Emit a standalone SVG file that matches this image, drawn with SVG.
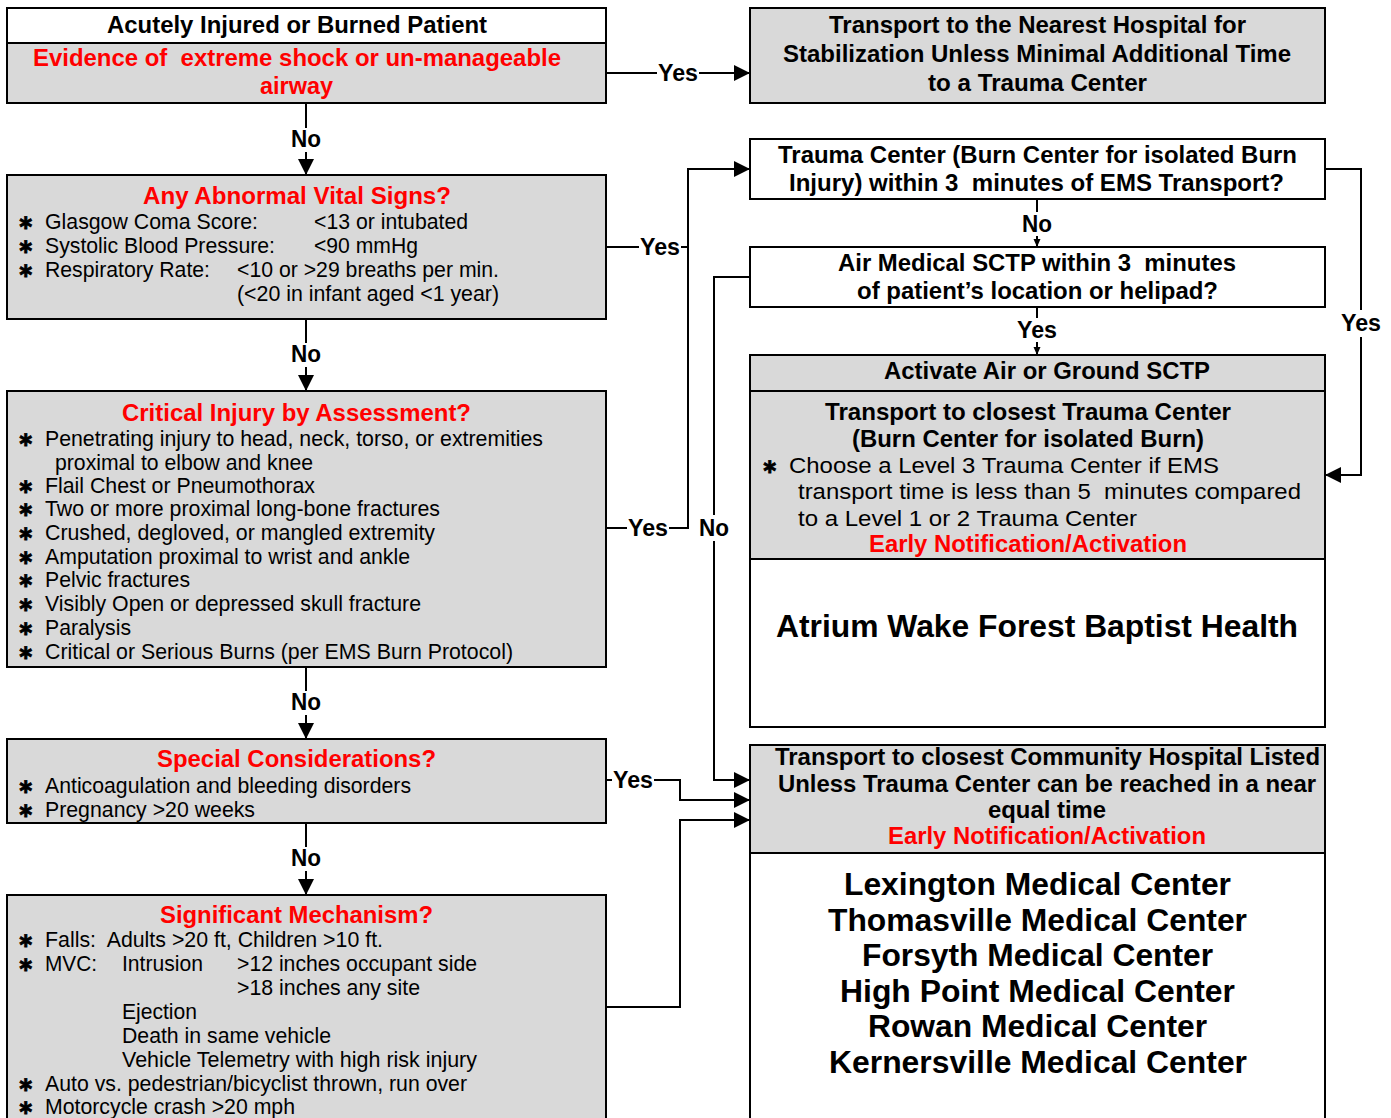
<svg xmlns="http://www.w3.org/2000/svg" width="1391" height="1118" viewBox="0 0 1391 1118">
<style>
text { font-family: "Liberation Sans Narrow", "Liberation Sans", Arial, sans-serif; }
.g { fill: #d9d9d9; stroke: #000; stroke-width: 2; }
.w { fill: #ffffff; stroke: #000; stroke-width: 2; }
.t { font-size: 24px; font-weight: bold; fill: #000; }
.r { font-size: 24px; font-weight: bold; fill: #ff0000; }
.n { font-size: 22px; fill: #000; }
.big { font-size: 32px; font-weight: bold; fill: #000; }
.ast { font-family: "DejaVu Sans", sans-serif; font-size: 20px; font-weight: bold; fill: #000; stroke: #000; stroke-width: 0.8; text-anchor: middle; }
.c { fill: none; stroke: #000; stroke-width: 2; }
.lb { font-size: 23px; font-weight: bold; fill: #000; text-anchor: middle; }
.bg { fill: #ffffff; }
</style>
<defs>
<marker id="a" markerUnits="userSpaceOnUse" markerWidth="16" markerHeight="16" refX="16" refY="8" orient="auto"><path d="M0,0 L16,8 L0,16 z" fill="#000"/></marker>
<marker id="s" markerUnits="userSpaceOnUse" markerWidth="8" markerHeight="8" refX="8" refY="4" orient="auto"><path d="M0,0.5 L8,4 L0,7.5 z" fill="#000"/></marker>
</defs>

<g id="connectors">
<path class="c" d="M606,73 H750" marker-end="url(#a)"/>
<path class="c" d="M306,103 V175" marker-end="url(#a)"/>
<path class="c" d="M606,247 H688 V169 H750" marker-end="url(#a)"/>
<path class="c" d="M606,528 H688 V247"/>
<path class="c" d="M306,319 V391" marker-end="url(#a)"/>
<path class="c" d="M1325,169 H1361 V475 H1325" marker-end="url(#a)"/>
<path class="c" d="M1037,199 V247" marker-end="url(#s)"/>
<path class="c" d="M1037,307 V355" marker-end="url(#s)"/>
<path class="c" d="M750,277 H714 V780 H750" marker-end="url(#a)"/>
<path class="c" d="M306,667 V739" marker-end="url(#a)"/>
<path class="c" d="M606,780 H680 V800 H750" marker-end="url(#a)"/>
<path class="c" d="M306,823 V895" marker-end="url(#a)"/>
<path class="c" d="M606,1007 H680 V820 H750" marker-end="url(#a)"/>

<rect class="bg" x="657" y="62" width="42" height="24"/>
<text class="lb" x="678" y="81" textLength="40" lengthAdjust="spacingAndGlyphs">Yes</text>
<rect class="bg" x="290" y="128" width="32" height="24"/>
<text class="lb" x="306" y="147" textLength="30" lengthAdjust="spacingAndGlyphs">No</text>
<rect class="bg" x="639" y="236" width="42" height="24"/>
<text class="lb" x="660" y="255" textLength="40" lengthAdjust="spacingAndGlyphs">Yes</text>
<rect class="bg" x="290" y="343" width="32" height="24"/>
<text class="lb" x="306" y="362" textLength="30" lengthAdjust="spacingAndGlyphs">No</text>
<rect class="bg" x="627" y="517" width="42" height="24"/>
<text class="lb" x="648" y="536" textLength="40" lengthAdjust="spacingAndGlyphs">Yes</text>
<rect class="bg" x="698" y="515" width="32" height="26"/>
<text class="lb" x="714" y="536" textLength="30" lengthAdjust="spacingAndGlyphs">No</text>
<rect class="bg" x="290" y="691" width="32" height="24"/>
<text class="lb" x="306" y="710" textLength="30" lengthAdjust="spacingAndGlyphs">No</text>
<rect class="bg" x="612" y="769" width="42" height="24"/>
<text class="lb" x="633" y="788" textLength="40" lengthAdjust="spacingAndGlyphs">Yes</text>
<rect class="bg" x="290" y="847" width="32" height="24"/>
<text class="lb" x="306" y="866" textLength="30" lengthAdjust="spacingAndGlyphs">No</text>
<rect class="bg" x="1021" y="212" width="32" height="24"/>
<text class="lb" x="1037" y="232" textLength="30" lengthAdjust="spacingAndGlyphs">No</text>
<rect class="bg" x="1016" y="318" width="42" height="24"/>
<text class="lb" x="1037" y="338" textLength="40" lengthAdjust="spacingAndGlyphs">Yes</text>
<rect class="bg" x="1340" y="310" width="42" height="27"/>
<text class="lb" x="1361" y="331" textLength="40" lengthAdjust="spacingAndGlyphs">Yes</text>
</g>

<g id="n-injured">
<rect class="w" x="7" y="8" width="599" height="35"/>
<rect class="g" x="7" y="43" width="599" height="60"/>
<text class="t" x="107" y="33" textLength="380" lengthAdjust="spacingAndGlyphs">Acutely Injured or Burned Patient</text>
<text class="r" x="33" y="66" textLength="528" lengthAdjust="spacingAndGlyphs" xml:space="preserve">Evidence of  extreme shock or un-manageable</text>
<text class="r" x="260" y="94" textLength="73" lengthAdjust="spacingAndGlyphs">airway</text>
</g>

<g id="n-nearest">
<rect class="g" x="750" y="8" width="575" height="95"/>
<text class="t" x="829" y="33" textLength="417" lengthAdjust="spacingAndGlyphs">Transport to the Nearest Hospital for</text>
<text class="t" x="783" y="62" textLength="508" lengthAdjust="spacingAndGlyphs">Stabilization Unless Minimal Additional Time</text>
<text class="t" x="928" y="91" textLength="219" lengthAdjust="spacingAndGlyphs">to a Trauma Center</text>
</g>

<g id="n-vitals">
<rect class="g" x="7" y="175" width="599" height="144"/>
<text class="r" x="143" y="204" textLength="308" lengthAdjust="spacingAndGlyphs">Any Abnormal Vital Signs?</text>
<text class="ast" x="26" y="229">∗</text>
<text class="n" x="45" y="229" textLength="213" lengthAdjust="spacingAndGlyphs">Glasgow Coma Score:</text>
<text class="n" x="314" y="229" textLength="154" lengthAdjust="spacingAndGlyphs">&lt;13 or intubated</text>
<text class="ast" x="26" y="253">∗</text>
<text class="n" x="45" y="253" textLength="230" lengthAdjust="spacingAndGlyphs">Systolic Blood Pressure:</text>
<text class="n" x="314" y="253" textLength="104" lengthAdjust="spacingAndGlyphs">&lt;90 mmHg</text>
<text class="ast" x="26" y="277">∗</text>
<text class="n" x="45" y="277" textLength="165" lengthAdjust="spacingAndGlyphs">Respiratory Rate:</text>
<text class="n" x="237" y="277" textLength="262" lengthAdjust="spacingAndGlyphs">&lt;10 or &gt;29 breaths per min.</text>
<text class="n" x="237" y="301" textLength="262" lengthAdjust="spacingAndGlyphs">(&lt;20 in infant aged &lt;1 year)</text>
</g>

<g id="n-critical">
<rect class="g" x="7" y="391" width="599" height="276"/>
<text class="r" x="122" y="421" textLength="349" lengthAdjust="spacingAndGlyphs">Critical Injury by Assessment?</text>
<text class="ast" x="26" y="446">∗</text>
<text class="n" x="45" y="446" textLength="498" lengthAdjust="spacingAndGlyphs">Penetrating injury to head, neck, torso, or extremities</text>
<text class="n" x="55" y="470" textLength="258" lengthAdjust="spacingAndGlyphs">proximal to elbow and knee</text>
<text class="ast" x="26" y="493">∗</text>
<text class="n" x="45" y="493" textLength="270" lengthAdjust="spacingAndGlyphs">Flail Chest or Pneumothorax</text>
<text class="ast" x="26" y="516">∗</text>
<text class="n" x="45" y="516" textLength="395" lengthAdjust="spacingAndGlyphs">Two or more proximal long-bone fractures</text>
<text class="ast" x="26" y="540">∗</text>
<text class="n" x="45" y="540" textLength="390" lengthAdjust="spacingAndGlyphs">Crushed, degloved, or mangled extremity</text>
<text class="ast" x="26" y="564">∗</text>
<text class="n" x="45" y="564" textLength="365" lengthAdjust="spacingAndGlyphs">Amputation proximal to wrist and ankle</text>
<text class="ast" x="26" y="587">∗</text>
<text class="n" x="45" y="587" textLength="145" lengthAdjust="spacingAndGlyphs">Pelvic fractures</text>
<text class="ast" x="26" y="611">∗</text>
<text class="n" x="45" y="611" textLength="376" lengthAdjust="spacingAndGlyphs">Visibly Open or depressed skull fracture</text>
<text class="ast" x="26" y="635">∗</text>
<text class="n" x="45" y="635" textLength="86" lengthAdjust="spacingAndGlyphs">Paralysis</text>
<text class="ast" x="26" y="659">∗</text>
<text class="n" x="45" y="659" textLength="468" lengthAdjust="spacingAndGlyphs">Critical or Serious Burns (per EMS Burn Protocol)</text>
</g>

<g id="n-special">
<rect class="g" x="7" y="739" width="599" height="84"/>
<text class="r" x="157" y="767" textLength="279" lengthAdjust="spacingAndGlyphs">Special Considerations?</text>
<text class="ast" x="26" y="793">∗</text>
<text class="n" x="45" y="793" textLength="366" lengthAdjust="spacingAndGlyphs">Anticoagulation and bleeding disorders</text>
<text class="ast" x="26" y="817">∗</text>
<text class="n" x="45" y="817" textLength="210" lengthAdjust="spacingAndGlyphs">Pregnancy &gt;20 weeks</text>
</g>

<g id="n-mechanism">
<rect class="g" x="7" y="895" width="599" height="240"/>
<text class="r" x="160" y="923" textLength="273" lengthAdjust="spacingAndGlyphs">Significant Mechanism?</text>
<text class="ast" x="26" y="947">∗</text>
<text class="n" x="45" y="947" textLength="338" lengthAdjust="spacingAndGlyphs" xml:space="preserve">Falls:  Adults &gt;20 ft, Children &gt;10 ft.</text>
<text class="ast" x="26" y="971">∗</text>
<text class="n" x="45" y="971" textLength="52" lengthAdjust="spacingAndGlyphs">MVC:</text>
<text class="n" x="122" y="971" textLength="81" lengthAdjust="spacingAndGlyphs">Intrusion</text>
<text class="n" x="237" y="971" textLength="240" lengthAdjust="spacingAndGlyphs">&gt;12 inches occupant side</text>
<text class="n" x="237" y="995" textLength="183" lengthAdjust="spacingAndGlyphs">&gt;18 inches any site</text>
<text class="n" x="122" y="1019" textLength="75" lengthAdjust="spacingAndGlyphs">Ejection</text>
<text class="n" x="122" y="1043" textLength="209" lengthAdjust="spacingAndGlyphs">Death in same vehicle</text>
<text class="n" x="122" y="1067" textLength="355" lengthAdjust="spacingAndGlyphs">Vehicle Telemetry with high risk injury</text>
<text class="ast" x="26" y="1091">∗</text>
<text class="n" x="45" y="1091" textLength="422" lengthAdjust="spacingAndGlyphs">Auto vs. pedestrian/bicyclist thrown, run over</text>
<text class="ast" x="26" y="1114">∗</text>
<text class="n" x="45" y="1114" textLength="250" lengthAdjust="spacingAndGlyphs">Motorcycle crash &gt;20 mph</text>
</g>

<g id="n-trauma-q">
<rect class="w" x="750" y="139" width="575" height="60"/>
<text class="t" x="778" y="163" textLength="519" lengthAdjust="spacingAndGlyphs">Trauma Center (Burn Center for isolated Burn</text>
<text class="t" x="789" y="191" textLength="495" lengthAdjust="spacingAndGlyphs" xml:space="preserve">Injury) within 3  minutes of EMS Transport?</text>
</g>

<g id="n-air-q">
<rect class="w" x="750" y="247" width="575" height="60"/>
<text class="t" x="838" y="271" textLength="398" lengthAdjust="spacingAndGlyphs" xml:space="preserve">Air Medical SCTP within 3  minutes</text>
<text class="t" x="857" y="299" textLength="361" lengthAdjust="spacingAndGlyphs">of patient’s location or helipad?</text>
</g>

<g id="n-activate">
<rect class="g" x="750" y="355" width="575" height="36"/>
<rect class="g" x="750" y="391" width="575" height="168"/>
<rect class="w" x="750" y="559" width="575" height="168"/>
<text class="t" x="884" y="379" textLength="326" lengthAdjust="spacingAndGlyphs">Activate Air or Ground SCTP</text>
<text class="t" x="825" y="420" textLength="406" lengthAdjust="spacingAndGlyphs">Transport to closest Trauma Center</text>
<text class="t" x="852" y="447" textLength="352" lengthAdjust="spacingAndGlyphs">(Burn Center for isolated Burn)</text>
<text class="ast" x="770" y="473">∗</text>
<text class="n" x="789" y="473" textLength="430" lengthAdjust="spacingAndGlyphs">Choose a Level 3 Trauma Center if EMS</text>
<text class="n" x="798" y="499" textLength="503" lengthAdjust="spacingAndGlyphs" xml:space="preserve">transport time is less than 5  minutes compared</text>
<text class="n" x="798" y="526" textLength="339" lengthAdjust="spacingAndGlyphs">to a Level 1 or 2 Trauma Center</text>
<text class="r" x="869" y="552" textLength="318" lengthAdjust="spacingAndGlyphs">Early Notification/Activation</text>
<text class="big" x="776" y="637" textLength="522" lengthAdjust="spacingAndGlyphs">Atrium Wake Forest Baptist Health</text>
</g>

<g id="n-community">
<rect class="g" x="750" y="745" width="575" height="108"/>
<rect class="w" x="750" y="853" width="575" height="282"/>
<text class="t" x="775" y="765" textLength="545" lengthAdjust="spacingAndGlyphs">Transport to closest Community Hospital Listed</text>
<text class="t" x="778" y="792" textLength="538" lengthAdjust="spacingAndGlyphs">Unless Trauma Center can be reached in a near</text>
<text class="t" x="988" y="818" textLength="118" lengthAdjust="spacingAndGlyphs">equal time</text>
<text class="r" x="888" y="844" textLength="318" lengthAdjust="spacingAndGlyphs">Early Notification/Activation</text>
<text class="big" x="844" y="895" textLength="387" lengthAdjust="spacingAndGlyphs">Lexington Medical Center</text>
<text class="big" x="828" y="931" textLength="419" lengthAdjust="spacingAndGlyphs">Thomasville Medical Center</text>
<text class="big" x="862" y="966" textLength="351" lengthAdjust="spacingAndGlyphs">Forsyth Medical Center</text>
<text class="big" x="840" y="1002" textLength="395" lengthAdjust="spacingAndGlyphs">High Point Medical Center</text>
<text class="big" x="868" y="1037" textLength="339" lengthAdjust="spacingAndGlyphs">Rowan Medical Center</text>
<text class="big" x="829" y="1073" textLength="418" lengthAdjust="spacingAndGlyphs">Kernersville Medical Center</text>
</g>
</svg>
